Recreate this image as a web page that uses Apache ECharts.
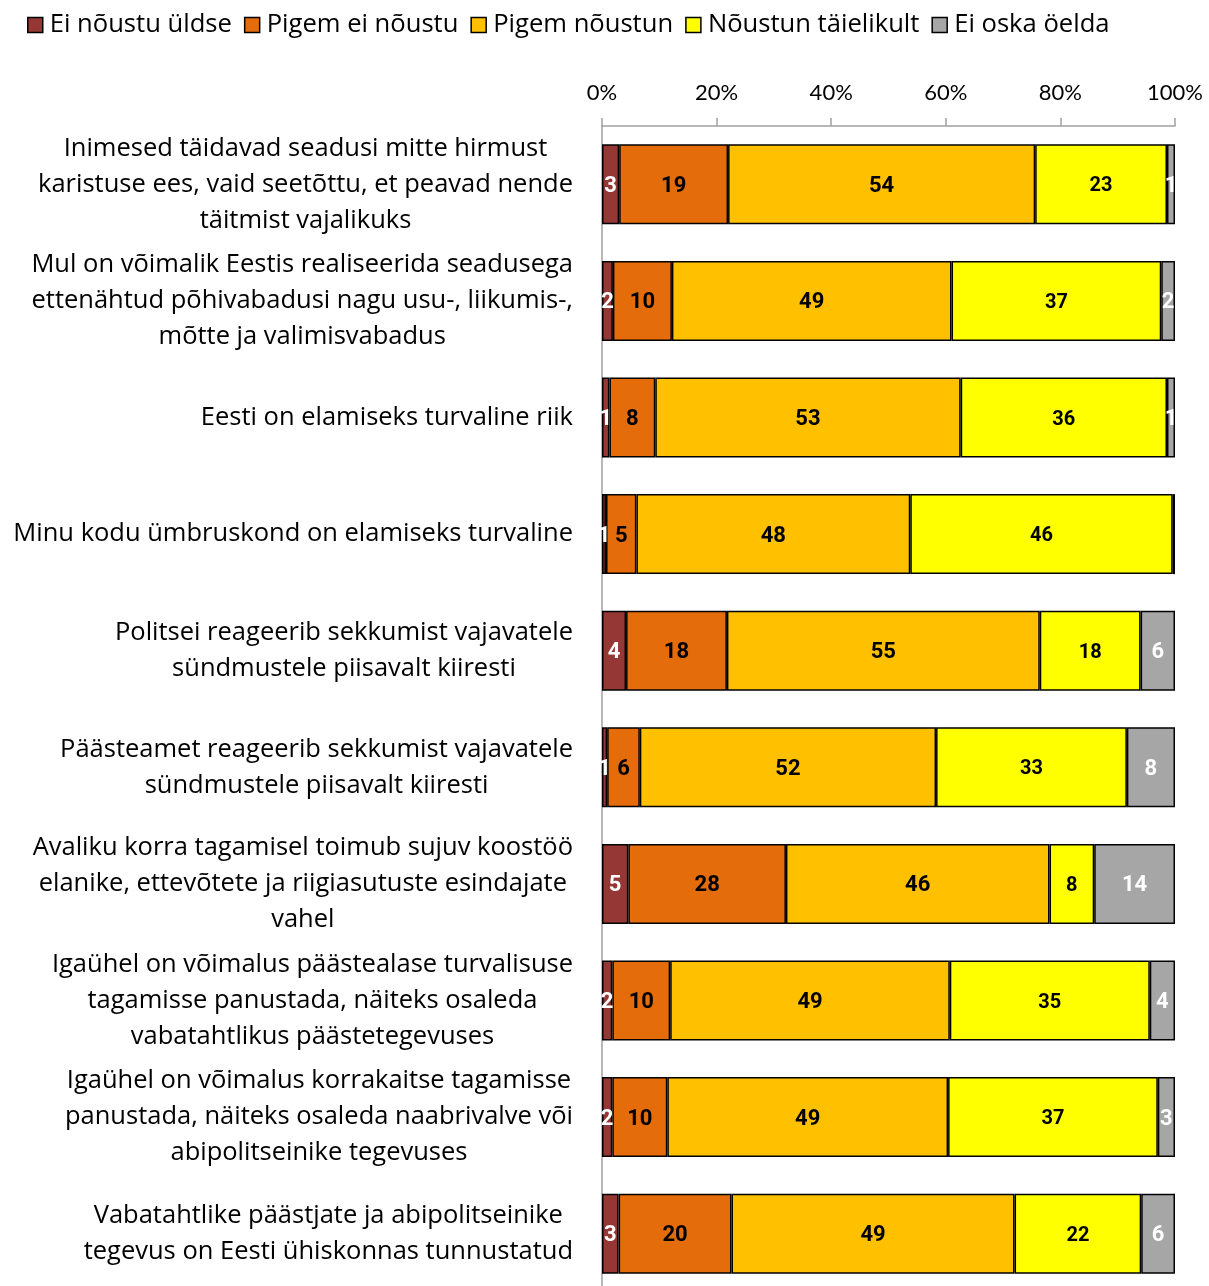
<!DOCTYPE html>
<html><head><meta charset="utf-8">
<script src="https://cdn.jsdelivr.net/npm/echarts@6/dist/echarts.min.js"></script>
<style>html,body{margin:0;padding:0;background:#fff}#c{width:1209px;height:1286px}</style>
</head><body><div id="c"></div>
<script>
const categories = [
  "Inimesed täidavad seadusi mitte hirmust\nkaristuse ees, vaid seetõttu, et peavad nende\ntäitmist vajalikuks",
  "Mul on võimalik Eestis realiseerida seadusega\nettenähtud põhivabadusi nagu usu-, liikumis-,\nmõtte ja valimisvabadus",
  "Eesti on elamiseks turvaline riik",
  "Minu kodu ümbruskond on elamiseks turvaline",
  "Politsei reageerib sekkumist vajavatele\nsündmustele piisavalt kiiresti",
  "Päästeamet reageerib sekkumist vajavatele\nsündmustele piisavalt kiiresti",
  "Avaliku korra tagamisel toimub sujuv koostöö\nelanike, ettevõtete ja riigiasutuste esindajate\nvahel",
  "Igaühel on võimalus päästealase turvalisuse\ntagamisse panustada, näiteks osaleda\nvabatahtlikus päästetegevuses",
  "Igaühel on võimalus korrakaitse tagamisse\npanustada, näiteks osaleda naabrivalve või\nabipolitseinike tegevuses",
  "Vabatahtlike päästjate ja abipolitseinike\ntegevus on Eesti ühiskonnas tunnustatud"
];
const seriesNames = ["Ei nõustu üldse", "Pigem ei nõustu", "Pigem nõustun", "Nõustun täielikult", "Ei oska öelda"];
const eiNoustuYldse     = [3.0, 1.9, 1.3, 0.7, 4.2, 0.9, 4.6, 1.8, 1.8, 2.9];
const pigemEiNoustu     = [19.0, 10.3, 8.0, 5.3, 17.6, 5.7, 27.5, 10.1, 9.6, 19.7];
const pigemNoustun      = [53.6, 48.8, 53.3, 47.8, 54.6, 51.7, 46.0, 48.8, 49.0, 49.4];
const noustunTaielikult = [23.0, 36.6, 36.0, 45.8, 17.6, 33.3, 7.8, 34.9, 36.6, 22.1];
const eiOskaOelda       = [1.4, 2.4, 1.4, 0.4, 6.0, 8.4, 14.1, 4.4, 3.0, 5.9];
const xTicks = [0, 20, 40, 60, 80, 100];

const seriesData = [eiNoustuYldse, pigemEiNoustu, pigemNoustun, noustunTaielikult, eiOskaOelda];
const colors = ["#953735", "#E46C0A", "#FFC000", "#FFFF00", "#A6A6A6"];
const labelColors = ["#fff", "#000", "#000", "#000", "#fff"];
const labelSizes = [22, 22, 22, 20, 22];

const chart = echarts.init(document.getElementById('c'), null, {renderer: 'canvas'});
chart.setOption({
  animation: false,
  backgroundColor: '#fff',
  legend: {
    top: 7, left: 22,
    icon: 'rect', itemWidth: 15, itemHeight: 15, itemGap: 12,
    itemStyle: {borderColor: '#000', borderWidth: 1.5},
    textStyle: {fontFamily: 'Open Sans', fontSize: 25.6, color: '#000', padding: [0, 0, 0, 2]},
    data: seriesNames
  },
  grid: {left: 602, top: 126, width: 573, height: 1166, outerBoundsMode: 'none', containLabel: false},
  xAxis: {
    type: 'value', position: 'top', min: xTicks[0], max: xTicks[xTicks.length - 1], interval: 20,
    axisLine: {show: true, lineStyle: {color: '#A0A0A0', width: 1.5}},
    axisTick: {show: true, length: 8, lineStyle: {color: '#A0A0A0', width: 1.5}},
    splitLine: {show: false},
    axisLabel: {formatter: '{value}%', fontFamily: 'Lato', fontSize: 22, color: '#000', margin: 22}
  },
  yAxis: {
    type: 'category', inverse: true, data: categories,
    axisLine: {show: true, lineStyle: {color: '#A0A0A0', width: 1.5}},
    axisTick: {show: false},
    axisLabel: {
      margin: 29,
      formatter: v => v.split('\n').map(l => '{c|' + l + '}').join('\n'),
      rich: {c: {align: 'center', fontFamily: 'Open Sans', fontSize: 25.5, lineHeight: 36, color: '#000'}}
    }
  },
  series: seriesNames.map((name, i) => ({
    name, type: 'bar', stack: 'total', barWidth: 80,
    data: seriesData[i],
    itemStyle: {color: colors[i], borderColor: '#000', borderWidth: 1.5},
    label: {
      show: true, position: 'inside', offset: [0, 2],
      formatter: p => { const r = Math.round(p.value); return r === 0 ? '' : String(r); },
      fontFamily: "Roboto",
      fontWeight: 'bold', fontSize: labelSizes[i], color: labelColors[i]
    }
  }))
});
</script></body></html>
